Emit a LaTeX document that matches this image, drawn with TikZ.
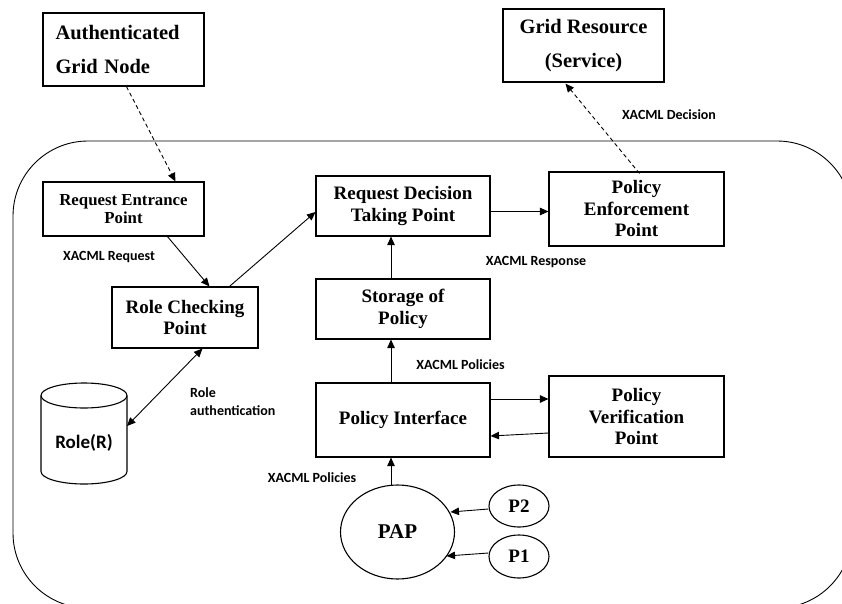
\documentclass[tikz,border=0pt]{standalone}
\usepackage{fontspec}
\setmainfont{Liberation Serif}
\newfontfamily\lblfont{Carlito}
\usetikzlibrary{arrows.meta,shapes.geometric,calc}

\tikzset{
  box/.style={draw, line width=1.1pt, rectangle, inner sep=0pt, align=center,
    font=\bfseries\fontsize{19}{21.5}\selectfont},
  bigbox/.style={box, font=\bfseries\fontsize{20.5}{34.5}\selectfont},
  oval/.style={draw, line width=1.1pt, ellipse, inner sep=0pt,
    font=\bfseries\fontsize{19}{21.5}\selectfont},
  lbl/.style={font=\lblfont\bfseries\fontsize{14}{18}\selectfont, inner sep=0pt, align=left},
  arr/.style={line width=0.9pt, -{Triangle[length=8.5pt,width=7.5pt]}},
  dblarr/.style={line width=0.9pt, {Triangle[length=8.5pt,width=7.5pt]}-{Triangle[length=8.5pt,width=7.5pt]}},
  dasharr/.style={arr, dash pattern=on 4pt off 3pt},
}

\begin{document}
\begin{tikzpicture}[x=1pt,y=-1pt]
\useasboundingbox (0,0) rectangle (842,604);

% enclosing boundary of the access control domain
\begin{scope}
  \clip (0,0) rectangle (842,604);
  \draw[line width=0.9pt, rounded corners=75pt] (13,141) rectangle (852,608);
\end{scope}

% external boxes
\node[bigbox, minimum width=161pt, minimum height=73pt, text width=136pt, align=left] (agn) at (123.5,49.5)
  {Authenticated\\Grid Node};
\node[bigbox, minimum width=161pt, minimum height=73pt] (gr) at (583.5,45.5)
  {Grid Resource\\(Service)};

% internal components
\node[box, minimum width=161pt, minimum height=54pt, font=\bfseries\fontsize{16.8}{18.5}\selectfont] (rep) at (123.5,209)
  {Request Entrance\\Point};
\node[box, minimum width=174pt, minimum height=60pt] (rdtp) at (403,206)
  {Request Decision\\Taking Point};
\node[box, minimum width=175pt, minimum height=74pt] (pep) at (636.5,209)
  {Policy\\Enforcement\\Point};
\node[box, minimum width=146pt, minimum height=61pt] (rcp) at (185,317.5)
  {Role Checking\\Point};
\node[box, minimum width=174pt, minimum height=60pt] (sop) at (403,309)
  {Storage of\\Policy};
\node[box, minimum width=174pt, minimum height=74pt] (pi) at (403,420)
  {Policy Interface};
\node[box, minimum width=175pt, minimum height=81pt] (pvp) at (636.5,416.5)
  {Policy\\Verification\\Point};

% role database
\draw[line width=1.1pt] (41,395.5) -- (41,471.5)
  arc[start angle=180, end angle=360, x radius=43pt, y radius=12.5pt] -- (127,395.5);
\draw[line width=1.1pt] (84,395.5) ellipse [x radius=43pt, y radius=12.5pt];
\node[font=\lblfont\bfseries\fontsize{19}{21}\selectfont, inner sep=0pt] (role) at (84,443) {Role(R)};
\coordinate (roleR) at (127,426);

% policy administration
\node[oval, minimum width=114pt, minimum height=94pt, font=\bfseries\fontsize{21}{24}\selectfont] (pap) at (397.5,532) {PAP};
\node[oval, minimum width=60pt, minimum height=42pt] (p2) at (519,506) {P2};
\node[oval, minimum width=60pt, minimum height=43pt] (p1) at (519,556.5) {P1};

% connectors
\draw[dasharr] ($(agn.south west)+(84,0)$) -- ($(rep.north west)+(133,0)$);
\draw[dasharr] ($(pep.north)+(3,2)$) -- ($(gr.south)+(-18,1)$);
\draw[arr] ($(rep.south west)+(125,0)$) -- ($(rcp.north west)+(98,0)$);
\draw[arr] ($(rcp.north west)+(118,0)$) -- ($(rdtp.west)+(0,6)$);
\draw[arr] ($(rdtp.east)+(0,5.5)$) -- ($(pep.west)+(0,2.5)$);
\draw[arr] ($(sop.north)+(-12,0)$) -- ($(rdtp.south)+(-12,0)$);
\draw[arr] ($(pi.north)+(-12,0)$) -- ($(sop.south)+(-12,0)$);
\draw[arr] ($(pap.north)+(-6.5,0.5)$) -- ($(pi.south)+(-12,0)$);
\draw[arr] ($(pi.east)+(0,-21)$) -- ($(pvp.west)+(0,-17.5)$);
\draw[arr] ($(pvp.west)+(0,16.5)$) -- ($(pi.east)+(0,16)$);
\draw[dblarr] (roleR) -- ($(rcp.south west)+(91,0)$);
\draw[arr] ($(p2.west)+(0,3)$) -- ($(pap.center)+(53,-20)$);
\draw[arr] ($(p1.west)+(0,-3.5)$) -- ($(pap.center)+(49,24)$);

% message labels
\node[lbl] (lreq) at (109,257) {XACML Request};
\node[lbl] (ldec) at (669,115) {XACML Decision};
\node[lbl] (lresp) at (536,262) {XACML Response};
\node[lbl] (lpol1) at (460.5,365) {XACML Policies};
\node[lbl] (lpol2) at (312,478) {XACML Policies};
\node[lbl, anchor=west] (lrole) at (190,402) {Role\\authentication};
\end{tikzpicture}
\end{document}
